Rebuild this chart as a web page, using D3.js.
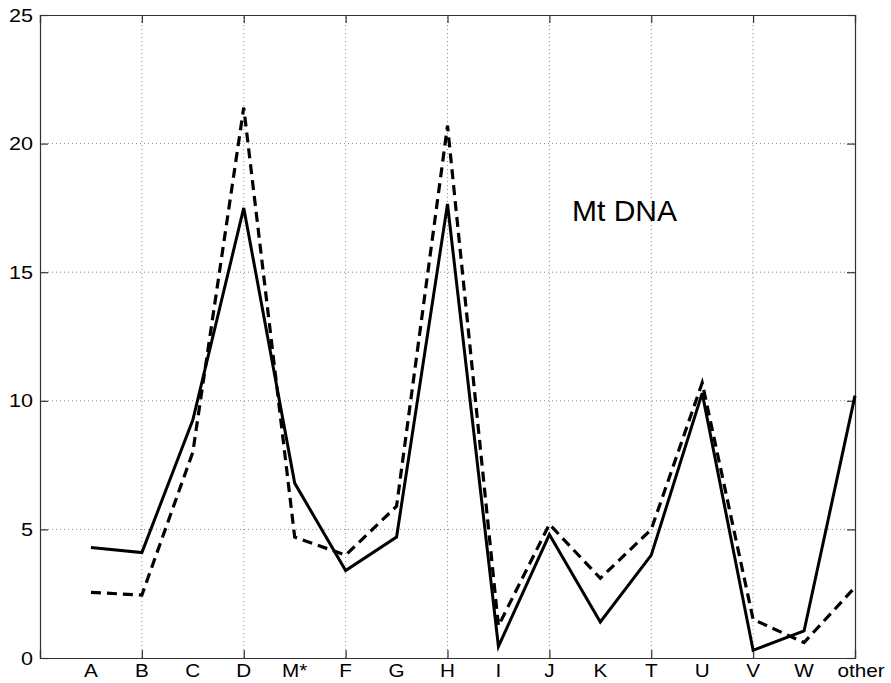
<!DOCTYPE html>
<html>
<head>
<meta charset="utf-8">
<script src="https://cdn.jsdelivr.net/npm/d3@7"></script>
<style>
  html, body { margin: 0; padding: 0; background: #fff; }
  svg { display: block; }
  text { font-family: "Liberation Sans", Arial, sans-serif; fill: #000; }
</style>
</head>
<body>
<script>
const categories = ["A","B","C","D","M*","F","G","H","I","J","K","T","U","V","W","other"];
const solidValues  = [4.3, 4.1, 9.25, 17.5, 6.8, 3.4, 4.7, 17.65, 0.45, 4.8, 1.4, 4.0, 10.3, 0.3, 1.05, 10.2];
const dashedValues = [2.55, 2.45, 8.0, 21.4, 4.7, 4.0, 5.9, 20.7, 1.25, 5.2, 3.1, 5.0, 10.7, 1.5, 0.6, 2.75];
const yTicks = [0, 5, 10, 15, 20, 25];
const xTickPositions = [0, 2, 4, 6, 8, 10, 12, 14, 16];
const annotation = "Mt DNA";

const W = 891, H = 683;
const svg = d3.select("body").append("svg").attr("width", W).attr("height", H);

const x = d3.scaleLinear().domain([0, 16]).range([40, 855]);
const y = d3.scaleLinear().domain([0, 25]).range([658, 15]);

// grid
const grid = svg.append("g");
grid.selectAll("line.hg").data(yTicks.filter(v => v > 0 && v < 25)).join("line")
  .attr("x1", x(0)).attr("x2", x(16))
  .attr("y1", d => y(d)).attr("y2", d => y(d))
  .attr("stroke", "#8a8a8a").attr("stroke-width", 1).attr("stroke-dasharray", "1,3");
grid.selectAll("line.vg").data(xTickPositions.filter(v => v > 0 && v < 16)).join("line")
  .attr("x1", d => x(d)).attr("x2", d => x(d))
  .attr("y1", y(0)).attr("y2", y(25))
  .attr("stroke", "#8a8a8a").attr("stroke-width", 1).attr("stroke-dasharray", "1,3");

// axes box and ticks
const axisColor = "#333";
const yAxisL = d3.axisLeft(y).tickValues(yTicks).tickSize(-8).tickFormat("");
const yAxisR = d3.axisRight(y).tickValues(yTicks).tickSize(-8).tickFormat("");
const xAxisB = d3.axisBottom(x).tickValues(xTickPositions).tickSize(-8).tickFormat("");
const xAxisT = d3.axisTop(x).tickValues(xTickPositions).tickSize(-8).tickFormat("");
function styleAxis(g) {
  g.selectAll("path").attr("stroke", axisColor).attr("stroke-width", 1.2);
  g.selectAll("line").attr("stroke", axisColor).attr("stroke-width", 1.2);
}
svg.append("g").attr("transform", `translate(${x(0)},0)`).call(yAxisL).call(styleAxis);
svg.append("g").attr("transform", `translate(${x(16)},0)`).call(yAxisR).call(styleAxis);
svg.append("g").attr("transform", `translate(0,${y(0)})`).call(xAxisB).call(styleAxis);
svg.append("g").attr("transform", `translate(0,${y(25)})`).call(xAxisT).call(styleAxis);

// y tick labels
svg.append("g").selectAll("text").data(yTicks).join("text")
  .attr("transform", d => `translate(33,${y(d) + 6.5}) scale(1.2,1)`)
  .attr("text-anchor", "end")
  .attr("font-size", 18)
  .text(d => d);

// x category labels
svg.append("g").selectAll("text").data(categories).join("text")
  .attr("transform", (d, i) => `translate(${x(i + 1) + (d === "other" ? 6 : 0)},677) scale(1.15,1)`)
  .attr("text-anchor", "middle")
  .attr("font-size", 18)
  .text(d => d);

// lines
const line = d3.line().x((d, i) => x(i + 1)).y(d => y(d));
svg.append("path").datum(dashedValues)
  .attr("d", line).attr("fill", "none")
  .attr("stroke", "#000").attr("stroke-width", 3.2)
  .attr("stroke-dasharray", "10,6").attr("stroke-linejoin", "miter");
svg.append("path").datum(solidValues)
  .attr("d", line).attr("fill", "none")
  .attr("stroke", "#000").attr("stroke-width", 3)
  .attr("stroke-linejoin", "miter");

// annotation
svg.append("text").attr("x", 572).attr("y", 221)
  .attr("font-size", 30).text(annotation);
</script>
</body>
</html>
